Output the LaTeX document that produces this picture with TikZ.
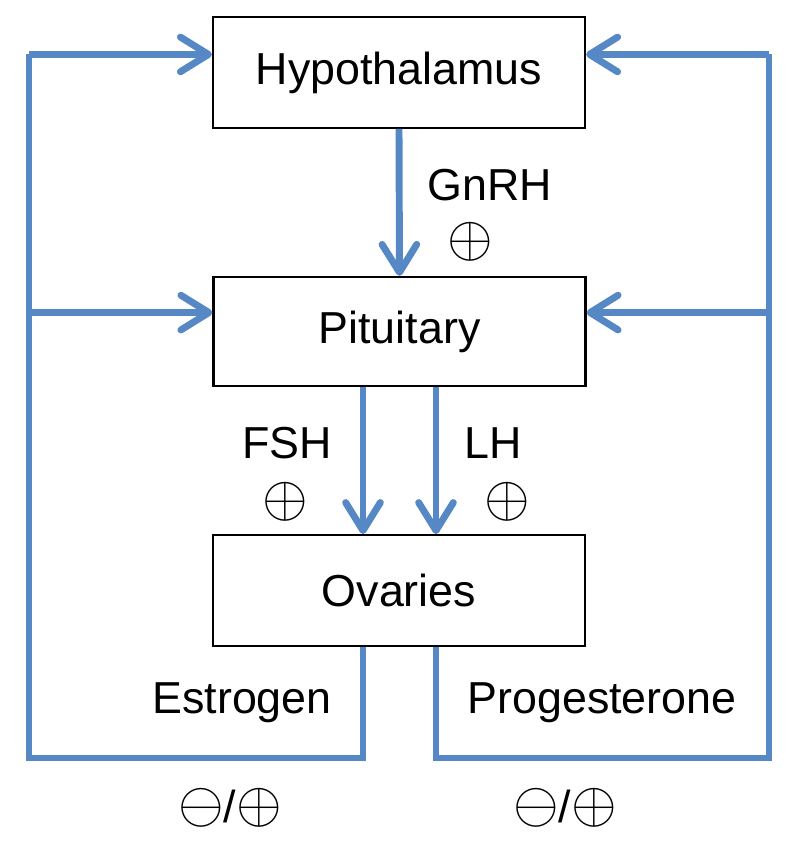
\RequirePackage{fix-cm}
\documentclass[tikz,border=0pt]{standalone}
\usepackage{fontspec}
\setmainfont{Liberation Sans}
\usetikzlibrary{arrows.meta,calc}
\definecolor{hormblue}{RGB}{86,136,198}
\tikzset{
  organ/.style={draw=black, line width=1.7pt, fill=white, minimum width=279pt, minimum height=83pt, inner sep=0pt, font=\fontsize{33.6}{38}\selectfont},
  lbl/.style={inner sep=0pt, font=\fontsize{33.6}{38}\selectfont},
  sgn/.style={inner sep=0pt, font=\fontsize{44}{48}\selectfont},
  hline/.style={draw=hormblue, line width=5.2pt, line join=miter},
  harrow/.style={hline, -{Straight Barb[length=21pt, width=26pt, round]}}
}
\begin{document}
\begin{tikzpicture}[x=0.75pt, y=-0.75pt]
\useasboundingbox (0,0) rectangle (800,851);
% boxes
\node[organ] (hyp) at (399,72.5) {Hypothalamus};
\node[organ, minimum height=81.75pt] (pit) at (399.5,331.5) {Pituitary};
\node[organ] (ova) at (399,590.5) {Ovaries};
% helper coordinates
\coordinate (lx) at (29,0);
\coordinate (rx) at (769,0);
\coordinate (fx) at (363,0);
\coordinate (hx) at (436,0);
\coordinate (by) at (0,758);
\coordinate (hypin) at ($(hyp.north west)!0.34!(hyp.south west)$);
\coordinate (pitin) at ($(pit.north west)!0.33!(pit.south west)$);
\coordinate (hypinr) at ($(hyp.north east)!0.34!(hyp.south east)$);
\coordinate (pitinr) at ($(pit.north east)!0.33!(pit.south east)$);
% GnRH
\draw[harrow] (hyp.south) -- (pit.north);
% FSH, LH
\draw[harrow] (pit.south -| fx) -- (ova.north -| fx);
\draw[harrow] (pit.south -| hx) -- (ova.north -| hx);
% estrogen loop
\draw[hline] (ova.south -| fx) -- (fx |- by) -- (lx |- by) -- (lx |- hypin);
\draw[harrow] (lx |- hypin) -- (hypin);
\draw[harrow] (lx |- pitin) -- (pitin);
% progesterone loop
\draw[hline] (ova.south -| hx) -- (hx |- by) -- (rx |- by) -- (rx |- hypinr);
\draw[harrow] (rx |- hypinr) -- (hypinr);
\draw[harrow] (rx |- pitinr) -- (pitinr);
% labels
\node[lbl] (gnrh) at (490,185) {GnRH};
\node[sgn] (gp) at (470,242) {$\oplus$};
\node[lbl] (fsh) at (287,443) {FSH};
\node[sgn] (fp) at (285,502) {$\oplus$};
\node[lbl] (lh) at (493,443) {LH};
\node[sgn] (lp) at (507,502) {$\oplus$};
\node[lbl] (est) at (242,703) {Estrogen};
\node[lbl] (prog) at (602,703) {Progesterone};
\node[sgn] (es) at (230,808) {$\ominus$\fontsize{33.6}{38}\selectfont/\fontsize{44}{48}\selectfont$\oplus$};
\node[sgn] (ps) at (565,808) {$\ominus$\fontsize{33.6}{38}\selectfont/\fontsize{44}{48}\selectfont$\oplus$};
\end{tikzpicture}
\end{document}
